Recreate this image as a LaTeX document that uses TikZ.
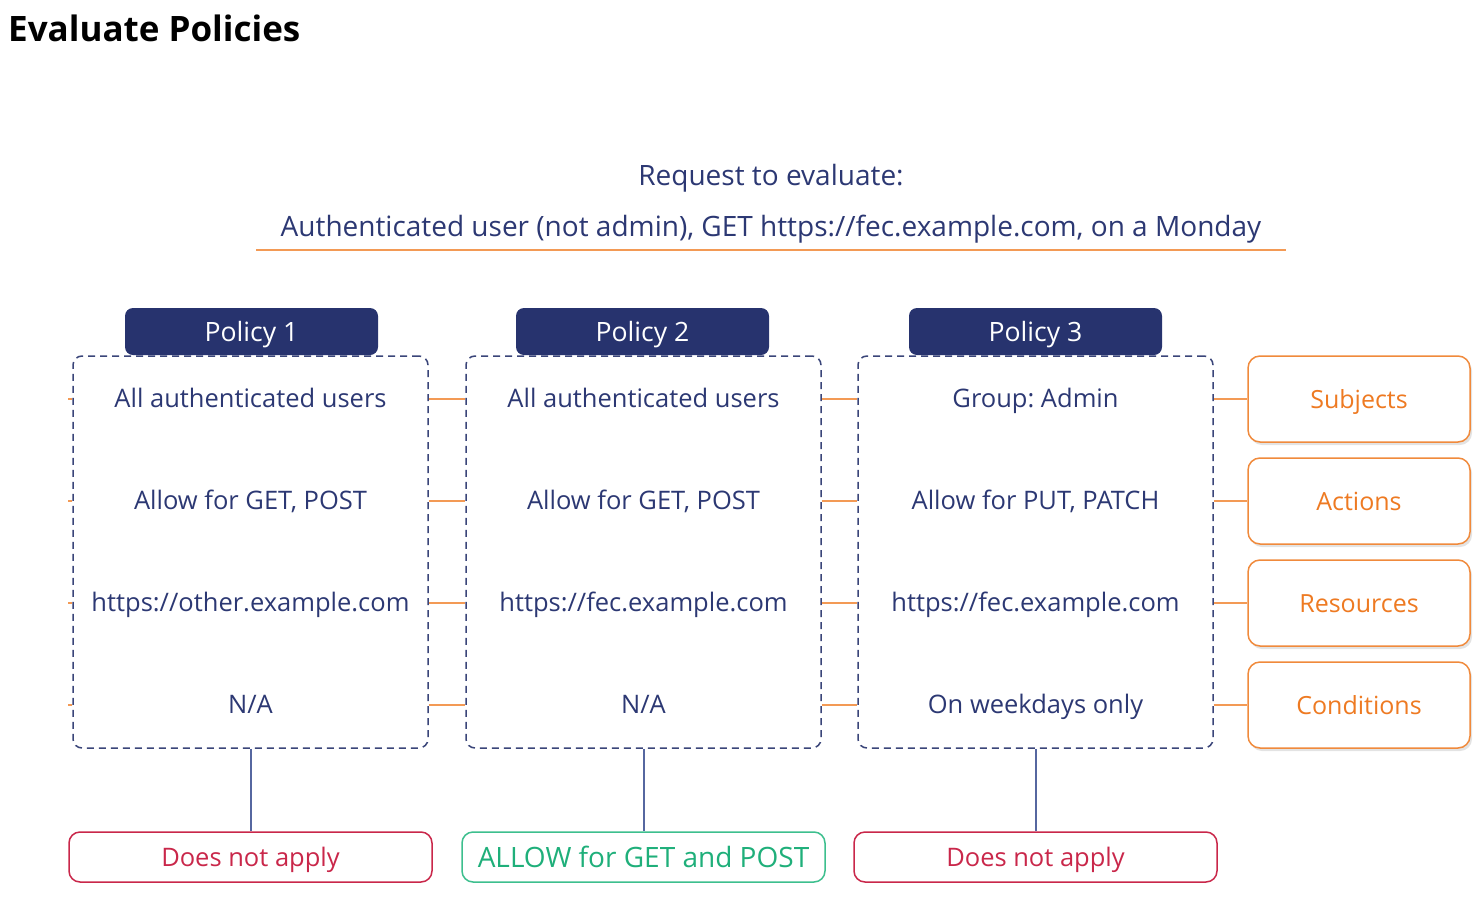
\documentclass[tikz,border=0pt]{standalone}
\usepackage{fontspec}
\setmainfont{Open Sans}
\usetikzlibrary{shadows}
\definecolor{navy}{HTML}{27336E}
\definecolor{navytext}{HTML}{2C3873}
\definecolor{dashc}{HTML}{3A4579}
\definecolor{orline}{HTML}{F39A55}
\definecolor{orbox}{HTML}{F08A3C}
\definecolor{ortext}{HTML}{EE7A22}
\definecolor{redc}{HTML}{C9274A}
\definecolor{greenc}{HTML}{3DBF8E}
\definecolor{greentext}{HTML}{1FAF7A}
\definecolor{vline}{HTML}{5667A0}
\frenchspacing
\begin{document}
\begin{tikzpicture}[x=1pt,y=-1pt,
  title/.style={font=\fontsize{35}{40}\selectfont\bfseries, text=black, anchor=west, inner sep=0pt, text height=26pt, text depth=0pt},
  reqtext/.style={font=\fontsize{28}{32}\selectfont, text=navytext, inner sep=0pt, text height=20pt, text depth=0pt},
  head/.style={fill=navy, rounded corners=8pt, minimum width=253pt, minimum height=47pt, inner sep=0pt, text=white, font=\fontsize{26.6}{30}\selectfont, text height=19pt, text depth=0pt},
  polbox/.style={draw=dashc, line width=1.5pt, dash pattern=on 7pt off 5pt, rounded corners=9pt, minimum width=355pt, minimum height=392pt, inner sep=0pt},
  rowtext/.style={font=\fontsize{25.5}{30}\selectfont, text=navytext, inner sep=0pt, text height=18.2pt, text depth=0pt},
  catbox/.style={draw=orbox, line width=1.5pt, fill=white, rounded corners=12pt, minimum width=222pt, minimum height=86pt, inner sep=0pt, text=ortext, font=\fontsize{25}{30}\selectfont, text height=18pt, text depth=0pt, drop shadow={opacity=0.22, shadow xshift=2pt, shadow yshift=-3pt}},
  resbox/.style={draw=#1, line width=1.5pt, rounded corners=11pt, minimum width=363pt, minimum height=50pt, inner sep=0pt, font=\fontsize{25.5}{30}\selectfont, text height=18.2pt, text depth=0pt},
  oline/.style={draw=orline, line width=1.5pt},
  vconn/.style={draw=vline, line width=2pt}
]
\useasboundingbox (0,0) rectangle (1484,900);

\node[title] (ttl) at (8,28) {Evaluate Policies};

\node[reqtext] (req1) at (771,175) {Request to evaluate:};
\node[reqtext, minimum width=1030pt] (req2) at (771,226) {Authenticated user (not admin), GET https://fec.example.com, on a Monday};
\coordinate (ula) at (256,250);
\coordinate (ulb) at (1286,250);
\draw[oline] (ula) -- (ulb);

% policy boxes
\node[polbox] (b1) at (250.5,552) {};
\node[polbox] (b2) at (643.5,552) {};
\node[polbox] (b3) at (1035.5,552) {};

\node[head] (h1) at (251.5,331.5) {Policy 1};
\node[head] (h2) at (642.5,331.5) {Policy 2};
\node[head] (h3) at (1035.5,331.5) {Policy 3};

% rows
\node[rowtext] (t11) at (250.5,398) {All authenticated users};
\node[rowtext] (t12) at (250.5,500) {Allow for GET, POST};
\node[rowtext] (t13) at (250.5,602) {https://other.example.com};
\node[rowtext] (t14) at (250.5,704) {N/A};

\node[rowtext] (t21) at (643.5,398) {All authenticated users};
\node[rowtext] (t22) at (643.5,500) {Allow for GET, POST};
\node[rowtext] (t23) at (643.5,602) {https://fec.example.com};
\node[rowtext] (t24) at (643.5,704) {N/A};

\node[rowtext] (t31) at (1035.5,398) {Group: Admin};
\node[rowtext] (t32) at (1035.5,500) {Allow for PUT, PATCH};
\node[rowtext] (t33) at (1035.5,602) {https://fec.example.com};
\node[rowtext] (t34) at (1035.5,704) {On weekdays only};

% category boxes
\node[catbox] (c1) at (1359,399) {Subjects};
\node[catbox] (c2) at (1359,501) {Actions};
\node[catbox] (c3) at (1359,603) {Resources};
\node[catbox] (c4) at (1359,705) {Conditions};

% connectors
\foreach \i in {1,2,3,4}{
  \draw[oline] (b1.east |- c\i.west) -- (b2.west |- c\i.west);
  \draw[oline] (b2.east |- c\i.west) -- (b3.west |- c\i.west);
  \draw[oline] (b3.east |- c\i.west) -- (c\i.west);
  \draw[oline] (b1.west |- c\i.west) -- ++(-4,0);
}

% results
\node[resbox=redc, text=redc] (r1) at (250.5,857) {Does not apply};
\node[resbox=greenc, text=greentext, font=\fontsize{28}{32}\selectfont, text height=20pt] (r2) at (643.5,857) {ALLOW for GET and POST};
\node[resbox=redc, text=redc] (r3) at (1035.5,857) {Does not apply};

\draw[vconn] (b1.south) -- (r1.north);
\draw[vconn] (b2.south) -- (r2.north);
\draw[vconn] (b3.south) -- (r3.north);
\end{tikzpicture}
\end{document}
